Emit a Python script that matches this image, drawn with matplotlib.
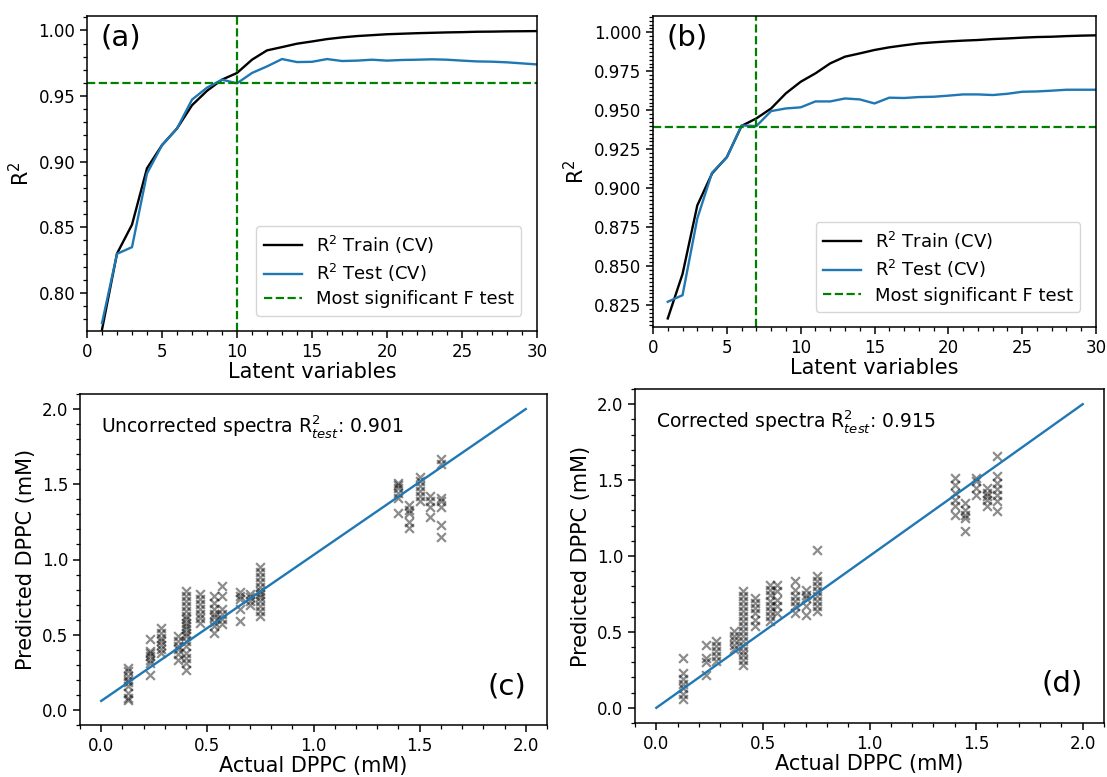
import numpy as np
import matplotlib
matplotlib.use("Agg")
import matplotlib.pyplot as plt
from matplotlib.ticker import MultipleLocator

# ---- data ----
lv = list(range(1, 31))

# (a) uncorrected spectra, R2 vs number of latent variables
train_a = [0.772, 0.830, 0.852, 0.895, 0.9126, 0.9253, 0.943, 0.954, 0.9625, 0.9676,
           0.9777, 0.9848, 0.9873, 0.9899, 0.9916, 0.9934, 0.9947, 0.9957, 0.9964, 0.9971,
           0.9975, 0.9979, 0.9982, 0.9985, 0.9987, 0.9990, 0.9991, 0.9993, 0.9994, 0.9995]
test_a = [0.7771, 0.8298, 0.8349, 0.891, 0.9126, 0.9253, 0.9473, 0.9564, 0.9625, 0.9597,
          0.9676, 0.9726, 0.9782, 0.9759, 0.9761, 0.9782, 0.9767, 0.9770, 0.9777, 0.9770,
          0.9775, 0.9777, 0.9780, 0.9777, 0.9770, 0.9764, 0.9762, 0.9757, 0.9749, 0.9741]
best_lv_a = 10
best_r2_a = 0.96

# (b) corrected spectra
train_b = [0.8165, 0.845, 0.889, 0.9095, 0.920, 0.940, 0.9448, 0.9512, 0.9609, 0.9683,
           0.9737, 0.9801, 0.9844, 0.9865, 0.9887, 0.9904, 0.9917, 0.9929, 0.9936, 0.9942,
           0.9947, 0.9951, 0.9957, 0.9961, 0.9966, 0.9970, 0.9972, 0.9976, 0.9979, 0.9981]
test_b = [0.8272, 0.8314, 0.8806, 0.910, 0.9198, 0.9403, 0.9399, 0.9495, 0.9512, 0.9519,
          0.9557, 0.9557, 0.9576, 0.9570, 0.9544, 0.9581, 0.9579, 0.9585, 0.9587, 0.9594,
          0.9602, 0.9602, 0.9598, 0.9606, 0.9619, 0.9621, 0.9626, 0.9632, 0.9632, 0.9632]
best_lv_b = 7
best_r2_b = 0.9395

# (c) predicted vs actual, uncorrected spectra
actual_c = [0.125, 0.232, 0.28, 0.364, 0.40, 0.466, 0.533, 0.568, 0.653, 0.70, 0.75,
            1.40, 1.45, 1.50, 1.55, 1.60]
pred_c = [
    [0.279, 0.257, 0.224, 0.201, 0.183, 0.156, 0.112, 0.078, 0.067],
    [0.469, 0.391, 0.376, 0.358, 0.335, 0.313, 0.235],
    [0.548, 0.514, 0.481, 0.458, 0.429, 0.402, 0.376],
    [0.492, 0.458, 0.425, 0.402, 0.369, 0.335],
    [0.793, 0.760, 0.726, 0.693, 0.659, 0.626, 0.603, 0.581, 0.559, 0.536, 0.514, 0.492,
     0.458, 0.425, 0.380, 0.346, 0.313, 0.268],
    [0.771, 0.738, 0.704, 0.671, 0.637, 0.608, 0.581],
    [0.760, 0.711, 0.671, 0.637, 0.615, 0.586, 0.559, 0.510],
    [0.827, 0.760, 0.671, 0.637, 0.604, 0.570],
    [0.782, 0.760, 0.738, 0.671, 0.592],
    [0.771, 0.749, 0.726, 0.697],
    [0.950, 0.916, 0.883, 0.849, 0.816, 0.793, 0.771, 0.749, 0.726, 0.693, 0.659, 0.626],
    [1.509, 1.498, 1.475, 1.442, 1.408, 1.308],
    [1.363, 1.330, 1.308, 1.252, 1.207],
    [1.547, 1.520, 1.486, 1.453, 1.419, 1.386],
    [1.419, 1.386, 1.352, 1.285],
    [1.665, 1.636, 1.408, 1.386, 1.352, 1.229, 1.151],
]
r2_test_c = 0.901

# (d) predicted vs actual, corrected spectra
actual_d = [0.124, 0.231, 0.279, 0.363, 0.406, 0.465, 0.533, 0.564, 0.651, 0.704, 0.752,
            1.40, 1.45, 1.50, 1.55, 1.60]
pred_d = [
    [0.329, 0.230, 0.191, 0.154, 0.132, 0.088, 0.055],
    [0.417, 0.329, 0.300, 0.219],
    [0.439, 0.410, 0.373, 0.340, 0.307],
    [0.504, 0.471, 0.445, 0.417, 0.388],
    [0.768, 0.735, 0.702, 0.669, 0.636, 0.603, 0.570, 0.537, 0.504, 0.471, 0.439, 0.406,
     0.373, 0.351, 0.318, 0.279],
    [0.724, 0.691, 0.658, 0.625, 0.581, 0.537],
    [0.811, 0.779, 0.746, 0.702, 0.669, 0.636, 0.603, 0.570],
    [0.811, 0.768, 0.713, 0.669, 0.625],
    [0.833, 0.779, 0.735, 0.702, 0.669, 0.625],
    [0.779, 0.746, 0.724, 0.669, 0.614],
    [1.037, 0.866, 0.833, 0.801, 0.768, 0.735, 0.702, 0.669, 0.636],
    [1.513, 1.469, 1.414, 1.371, 1.327, 1.272],
    [1.349, 1.305, 1.272, 1.250, 1.162],
    [1.513, 1.491, 1.447, 1.404],
    [1.447, 1.414, 1.393, 1.371, 1.327],
    [1.660, 1.524, 1.480, 1.441, 1.404, 1.360, 1.294],
]
r2_test_d = 0.915

# fitted lines drawn in (c) and (d)
line_x = [0.0, 2.0]
line_c = [0.06, 2.0]
line_d = [0.0, 2.0]

# ---- figure ----
W, H = 1107, 777
fig = plt.figure(figsize=(W / 100, H / 100), dpi=100)


def px_axes(left, top, right, bottom):
    return fig.add_axes([left / W, 1 - bottom / H, (right - left) / W, (bottom - top) / H])


def style(ax):
    ax.tick_params(which='major', length=5, width=1.1, labelsize=12)
    ax.tick_params(which='minor', length=3, width=0.9)
    for s in ax.spines.values():
        s.set_linewidth(1.1)


def r2_panel(ax, train, test, best_lv, best_r2, tag, ylim, yminor):
    ax.plot(lv, train, color='black', lw=1.7, label='R$^2$ Train (CV)')
    ax.plot(lv, test, color='#1f77b4', lw=1.7, label='R$^2$ Test (CV)')
    ax.axvline(best_lv, color='green', ls='--', lw=1.6, label='Most significant F test')
    ax.axhline(best_r2, color='green', ls='--', lw=1.6)
    ax.set_xlim(0, 30)
    ax.set_ylim(*ylim)
    ax.xaxis.set_minor_locator(MultipleLocator(1))
    ax.yaxis.set_minor_locator(MultipleLocator(yminor))
    ax.set_xlabel('Latent variables', fontsize=15, labelpad=1)
    ax.set_ylabel('R$^2$', fontsize=15)
    ax.legend(loc='lower right', fontsize=13, handlelength=2.1, borderpad=0.4,
              labelspacing=0.35, bbox_to_anchor=(0.985, 0.02))
    ax.text(0.03, 0.975, tag, transform=ax.transAxes, fontsize=21, va='top')
    style(ax)


def pred_panel(ax, actual, preds, r2, label, tag, line_y):
    for a, p in zip(actual, preds):
        ax.scatter([a] * len(p), p, marker='x', color='black', alpha=0.45, s=40, linewidths=1.6)
    ax.plot(line_x, line_y, color='#1f77b4', lw=1.7)
    ax.set_xlim(-0.1, 2.1)
    ax.set_ylim(-0.1, 2.1)
    ax.xaxis.set_major_locator(MultipleLocator(0.5))
    ax.yaxis.set_major_locator(MultipleLocator(0.5))
    ax.xaxis.set_minor_locator(MultipleLocator(0.1))
    ax.yaxis.set_minor_locator(MultipleLocator(0.1))
    ax.set_xlabel('Actual DPPC (mM)', fontsize=15, labelpad=1)
    ax.set_ylabel('Predicted DPPC (mM)', fontsize=15)
    ax.text(0.045, 0.885, label + ' R$^2_{test}$: %.3f' % r2, transform=ax.transAxes,
            fontsize=13.5, va='baseline')
    ax.text(0.955, 0.075, tag, transform=ax.transAxes, fontsize=21, ha='right', va='bottom')
    style(ax)


ax_a = px_axes(87, 16, 537, 331)
r2_panel(ax_a, train_a, test_a, best_lv_a, best_r2_a, '(a)', (0.771, 1.011), 0.01)

ax_b = px_axes(653, 16, 1096, 327)
r2_panel(ax_b, train_b, test_b, best_lv_b, best_r2_b, '(b)', (0.811, 1.0105), 0.0025)

ax_c = px_axes(80, 394, 547, 725)
pred_panel(ax_c, actual_c, pred_c, r2_test_c, 'Uncorrected spectra', '(c)', line_c)

ax_d = px_axes(635, 389, 1104, 723)
pred_panel(ax_d, actual_d, pred_d, r2_test_d, 'Corrected spectra', '(d)', line_d)

fig.savefig('out.png', dpi=100)
